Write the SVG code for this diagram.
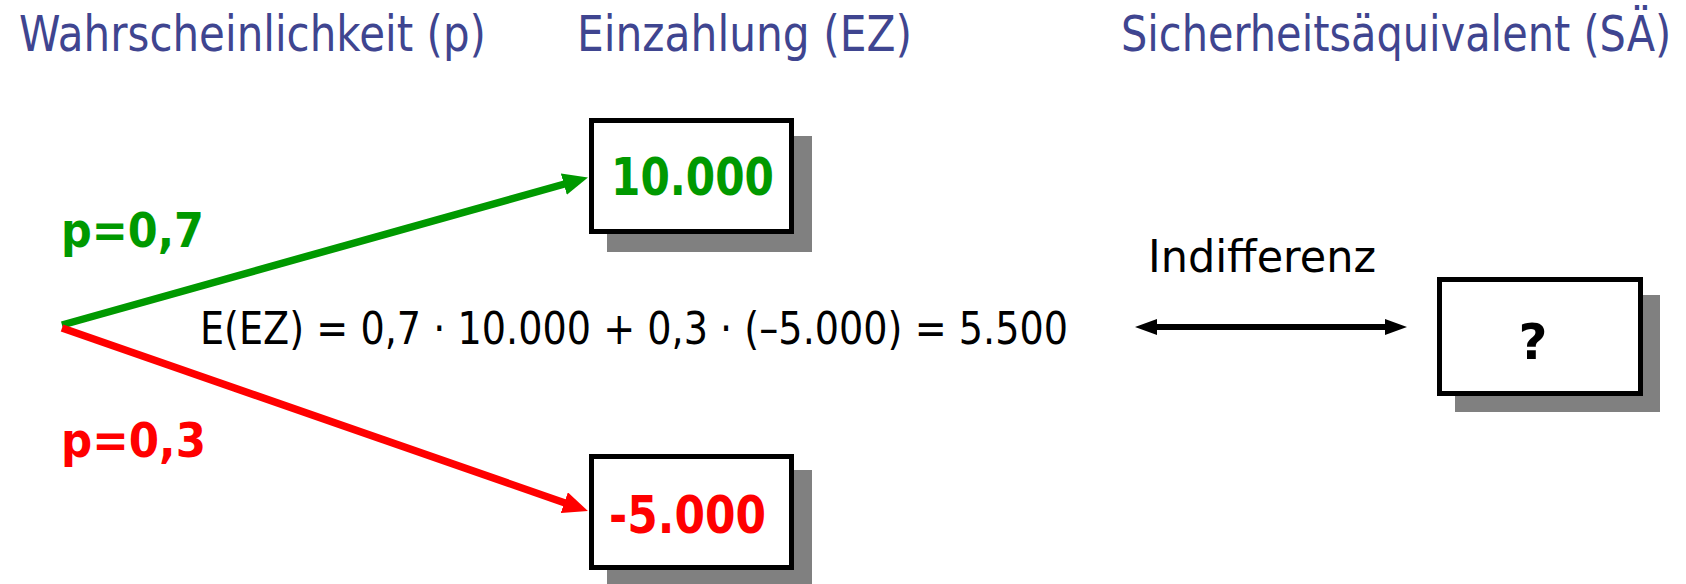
<svg xmlns="http://www.w3.org/2000/svg" width="1686" height="584" viewBox="0 0 1686 584">
  <style>
    .hdr { font-family: "DejaVu Sans", "Liberation Sans", sans-serif; font-size: 50px; fill: #3F4590; }
    .lbl { font-family: "DejaVu Sans", "Liberation Sans", sans-serif; font-weight: bold; font-size: 48px; }
    .txt { font-family: "DejaVu Sans", "Liberation Sans", sans-serif; font-size: 45px; fill: #000; }
    .box { fill: #fff; stroke: #000; stroke-width: 5; }
    .shadow { fill: #808080; }
  </style>
  <defs>
    <marker id="ahG" markerUnits="userSpaceOnUse" markerWidth="25" markerHeight="22" viewBox="0 0 25 22" refX="10" refY="11" orient="auto">
      <path d="M0,0 L25,11 L0,22 z" fill="#009900"/>
    </marker>
    <marker id="ahR" markerUnits="userSpaceOnUse" markerWidth="25" markerHeight="22" viewBox="0 0 25 22" refX="10" refY="11" orient="auto">
      <path d="M0,0 L25,11 L0,22 z" fill="#FF0000"/>
    </marker>
    <marker id="ahK" markerUnits="userSpaceOnUse" markerWidth="22" markerHeight="16" viewBox="0 0 22 16" refX="8" refY="8" orient="auto-start-reverse">
      <path d="M0,0 L22,8 L0,16 z" fill="#000"/>
    </marker>
  </defs>

  <g id="headers">
    <text class="hdr" x="19" y="51" textLength="467" lengthAdjust="spacingAndGlyphs">Wahrscheinlichkeit (p)</text>
    <text class="hdr" x="577" y="51" textLength="335" lengthAdjust="spacingAndGlyphs">Einzahlung (EZ)</text>
    <text class="hdr" x="1121" y="0" style="font-size:41.5px" transform="translate(0,51) scale(1,1.2)">Sicherheitsäquivalent (SÄ)</text>
  </g>

  <g id="connectors">
    <line x1="62" y1="325" x2="573.5" y2="181.5" stroke="#009900" stroke-width="7.5" marker-end="url(#ahG)"/>
    <line x1="62" y1="328" x2="573.7" y2="506" stroke="#FF0000" stroke-width="7.5" marker-end="url(#ahR)"/>
    <line x1="1149" y1="327" x2="1393" y2="327" stroke="#000" stroke-width="6" marker-start="url(#ahK)" marker-end="url(#ahK)"/>
  </g>

  <g id="label-p07">
    <text class="lbl" x="61" y="247" fill="#009900" textLength="143" lengthAdjust="spacingAndGlyphs">p=0,7</text>
  </g>
  <g id="label-p03">
    <text class="lbl" x="61" y="457" fill="#FF0000" textLength="145" lengthAdjust="spacingAndGlyphs">p=0,3</text>
  </g>

  <g id="node-10000">
    <rect class="shadow" x="607" y="136" width="205" height="116"/>
    <rect class="box" x="591.5" y="120.5" width="200" height="111"/>
    <text class="lbl" x="611" y="195" fill="#009900" style="font-size:51px" textLength="163" lengthAdjust="spacingAndGlyphs">10.000</text>
  </g>

  <g id="node-minus5000">
    <rect class="shadow" x="607" y="470" width="205" height="116"/>
    <rect class="box" x="591.5" y="456.5" width="200" height="111"/>
    <text class="lbl" x="609" y="533" fill="#FF0000" style="font-size:51px" textLength="157" lengthAdjust="spacingAndGlyphs">-5.000</text>
  </g>

  <g id="formula">
    <text class="txt" x="200" y="344" textLength="868" lengthAdjust="spacingAndGlyphs">E(EZ) = 0,7 · 10.000 + 0,3 · (–5.000) = 5.500</text>
  </g>

  <g id="indifferenz">
    <text class="txt" x="1148" y="272" textLength="228" lengthAdjust="spacingAndGlyphs">Indifferenz</text>
  </g>

  <g id="node-question">
    <rect class="shadow" x="1455" y="295" width="205" height="117"/>
    <rect class="box" x="1439.5" y="279.5" width="201" height="114"/>
    <text class="lbl" x="1533" y="359" fill="#000" style="font-size:50px" text-anchor="middle">?</text>
  </g>
</svg>
